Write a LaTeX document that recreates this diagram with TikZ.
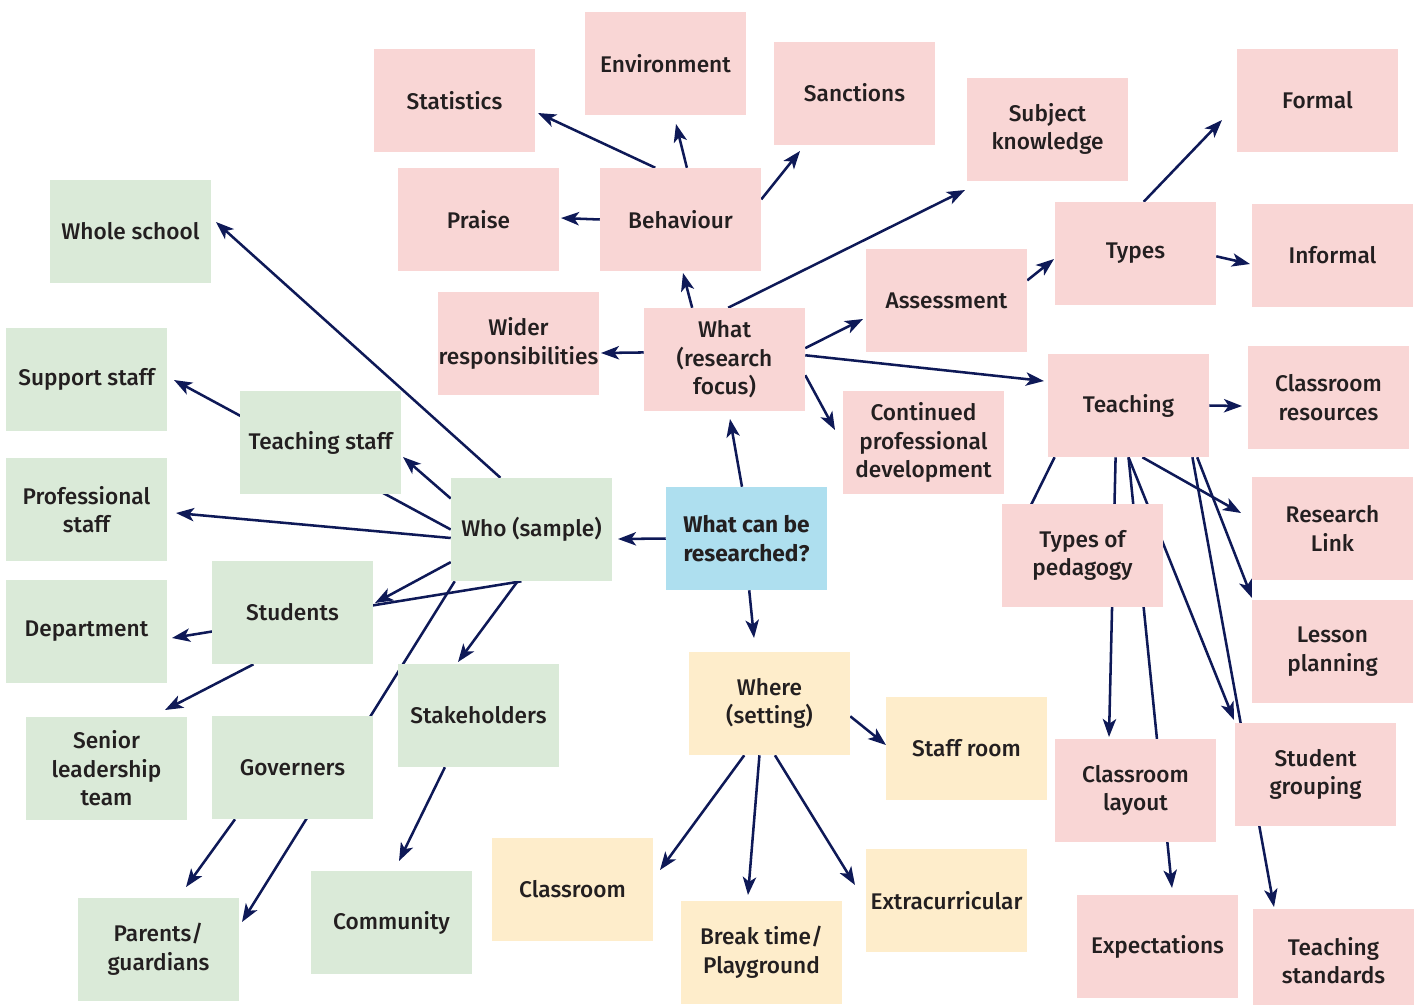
\documentclass[tikz,border=0pt]{standalone}
\usepackage{fontspec}
\IfFontExistsTF{Fira Sans Medium}{\setmainfont{Fira Sans Medium}[BoldFont={Fira Sans Bold}]}{\setmainfont{Fira Sans}}
\usetikzlibrary{arrows.meta,backgrounds}
\definecolor{pk}{HTML}{F9D6D5}
\definecolor{gr}{HTML}{DAEAD8}
\definecolor{bl}{HTML}{AEDFEF}
\definecolor{yl}{HTML}{FEEDCB}
\definecolor{lnc}{HTML}{0E1957}
\definecolor{tx}{HTML}{231F20}
\begin{document}
\begin{tikzpicture}[x=0.75pt,y=-0.75pt,
  box/.style={minimum width=120.75pt,minimum height=77.25pt,inner sep=0pt,align=center,text=tx,
    font=\fontsize{17}{21.4}\selectfont},
  pbox/.style={box,fill=pk},
  gbox/.style={box,fill=gr},
  bbox/.style={box,fill=bl},
  ybox/.style={box,fill=yl},
  arr/.style={draw=lnc,line width=1.9pt,-{Stealth[length=13.5pt,width=10pt,inset=3.5pt]}},
  plain/.style={draw=lnc,line width=1.9pt}]
\useasboundingbox (0,0) rectangle (1416,1004);
% pink
\node[pbox] (env) at (665.5,63.5) {Environment};
\node[pbox] (stat) at (454.5,100.5) {Statistics};
\node[pbox] (sanc) at (854.5,93) {Sanctions};
\node[pbox] (subj) at (1047.5,129) {Subject\\knowledge};
\node[pbox] (formal) at (1317.5,100.5) {Formal};
\node[pbox] (praise) at (478.5,219.5) {Praise};
\node[pbox] (behav) at (680.5,219.5) {Behaviour};
\node[pbox] (types) at (1135.5,253.5) {Types};
\node[pbox] (informal) at (1332.5,255) {Informal};
\node[pbox] (assess) at (946.5,300.5) {Assessment};
\node[pbox] (wider) at (518.5,343.5) {Wider\\responsibilities};
\node[pbox] (what) at (724.5,359.5) {What\\(research\\focus)};
\node[pbox] (teach) at (1128.5,405.5) {Teaching};
\node[pbox] (cres) at (1328.5,397.5) {Classroom\\resources};
\node[pbox] (cpd) at (923.5,442.5) {Continued\\professional\\development};
\node[pbox] (tped) at (1082.5,555.5) {Types of\\pedagogy};
\node[pbox] (rlink) at (1332.5,528.5) {Research\\Link};
\node[pbox] (lesson) at (1332.5,651.5) {Lesson\\planning};
\node[pbox] (clayout) at (1135.5,790.5) {Classroom\\layout};
\node[pbox] (sgroup) at (1315.5,774.5) {Student\\grouping};
\node[pbox] (expect) at (1157.5,946.5) {Expectations};
\node[pbox] (tstand) at (1333.5,960.5) {Teaching\\standards};
% green
\node[gbox] (whole) at (130.5,231.5) {Whole school};
\node[gbox] (support) at (86.5,379.5) {Support staff};
\node[gbox] (tstaff) at (320.5,442.5) {Teaching staff};
\node[gbox] (prof) at (86.5,509.5) {Professional\\staff};
\node[gbox] (who) at (531.5,529.5) {Who (sample)};
\node[gbox] (students) at (292.5,612.5) {Students};
\node[gbox] (dept) at (86.5,631.5) {Department};
\node[gbox] (stake) at (478.5,715.5) {Stakeholders};
\node[gbox] (senior) at (106.5,768.5) {Senior\\leadership\\team};
\node[gbox] (gov) at (292.5,767.5) {Governers};
\node[gbox] (parents) at (158.5,949.5) {Parents/\\guardians};
\node[gbox] (comm) at (391.5,922.5) {Community};
% blue
\node[bbox,font=\fontsize{17}{21.4}\selectfont\bfseries] (centre) at (746.5,538.5) {What can be\\researched?};
% yellow
\node[ybox] (where) at (769.5,703.5) {Where\\(setting)};
\node[ybox] (staff) at (966.5,748.5) {Staff room};
\node[ybox] (classroom) at (572.5,889.5) {Classroom};
\node[ybox] (extra) at (946.5,900.5) {Extracurricular};
\node[ybox] (break) at (761.5,952.5) {Break time/\\Playground};
% arrow tips (free ends)
\coordinate (t1) at (618,539);
\coordinate (t2) at (730,419);
\coordinate (t3) at (754,638);
\coordinate (t4) at (683,273);
\coordinate (t5) at (601,353);
\coordinate (t6) at (863,319);
\coordinate (t7) at (965,190);
\coordinate (t8) at (1044,381);
\coordinate (t9) at (835,430);
\coordinate (t10) at (538,113);
\coordinate (t11) at (676,124);
\coordinate (t12) at (800,151);
\coordinate (t13) at (561,218);
\coordinate (t14) at (1054,259);
\coordinate (t15) at (1222,120);
\coordinate (t16) at (1250,264);
\coordinate (t17) at (1242,406);
\coordinate (t18) at (1031,505);
\coordinate (t19) at (1109,737);
\coordinate (t20) at (1172,888);
\coordinate (t21) at (1234,720);
\coordinate (t22) at (1241,513);
\coordinate (t23) at (1252,598);
\coordinate (t24) at (1274,907);
\coordinate (t25) at (886,745);
\coordinate (t26) at (660,870);
\coordinate (t27) at (748,895);
\coordinate (t28) at (855,885);
\coordinate (t29) at (216,222);
\coordinate (t30) at (403,457);
\coordinate (t31) at (174,380);
\coordinate (t32) at (176,513);
\coordinate (t33) at (375,603);
\coordinate (t34) at (172,638);
\coordinate (t35) at (165,710);
\coordinate (t36) at (458,662);
\coordinate (t37) at (242,922);
\coordinate (t38) at (186,887);
\coordinate (t39) at (399,861);
\begin{pgfonlayer}{background}
\draw[arr] (centre.west) -- (t1);
\draw[arr] (centre.95) -- (t2);
\draw[arr] (centre.273.9) -- (t3);
\draw[arr] (what.122.25) -- (t4);
\draw[arr] (what.175.4) -- (t5);
\draw[arr] (what.8.1) -- (t6);
\draw[arr] (what.86.1) -- (t7);
\draw[arr] (what.3.2) -- (t8);
\draw[arr] (what.349.8) -- (t9);
\draw[arr] (behav.116.3) -- (t10);
\draw[arr] (behav.83.9) -- (t11);
\draw[arr] (behav.14.3) -- (t12);
\draw[arr] (behav.west) -- (t13);
\draw[arr] (assess.14.3) -- (t14);
\draw[arr] (types.81.7) -- (t15);
\draw[arr] (types.358.2) -- (t16);
\draw[arr] (teach.east) -- (t17);
\draw[plain] (teach.215.8) -- (t18);
\draw[arr] (teach.256.4) -- (t19);
\draw[arr] (teach.south) -- (t20);
\draw[arr] (teach.south) -- (t21);
\draw[arr] (teach.285.7) -- (t22);
\draw[arr] (teach.323.1) -- (t23);
\draw[arr] (teach.321.4) -- (t24);
\draw[arr] (where.351.9) -- (t25);
\draw[arr] (where.244.6) -- (t26);
\draw[arr] (where.259.5) -- (t27);
\draw[arr] (where.276.1) -- (t28);
\draw[arr] (who.121.5) -- (t29);
\draw[arr] (who.159.25) -- (t30);
\draw[arr] (who.west) -- (t31);
\draw[arr] (who.186.7) -- (t32);
\draw[arr] (who.202) -- (t33);
\draw[arr] (who.259.5) -- (t34);
\draw[arr] (students.233.9) -- (t35);
\draw[arr] (who.255.3) -- (t36);
\draw[arr] (who.214.65) -- (t37);
\draw[arr] (gov.222.9) -- (t38);
\draw[arr] (stake.237.75) -- (t39);
\end{pgfonlayer}
\end{tikzpicture}
\end{document}
